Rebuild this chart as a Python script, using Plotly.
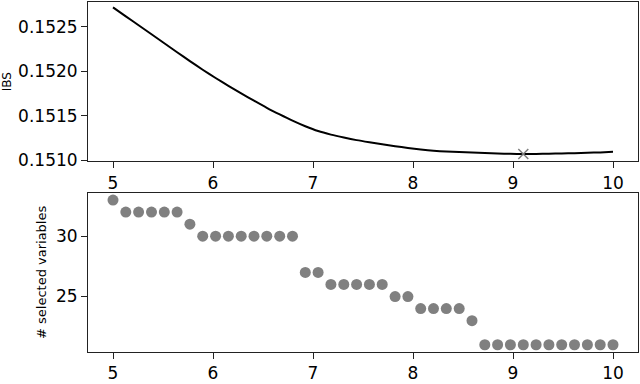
import numpy as np
import plotly.graph_objects as go
from plotly.subplots import make_subplots

# x grid (40 evaluated points between 5 and 10)
x_vals = [5.000, 5.128, 5.256, 5.385, 5.513, 5.641, 5.769, 5.897, 6.026, 6.154,
          6.282, 6.410, 6.538, 6.667, 6.795, 6.923, 7.051, 7.179, 7.308, 7.436,
          7.564, 7.692, 7.821, 7.949, 8.077, 8.205, 8.333, 8.462, 8.590, 8.718,
          8.846, 8.974, 9.103, 9.231, 9.359, 9.487, 9.615, 9.744, 9.872, 10.000]

ibs_vals = [0.152720, 0.152619, 0.152518, 0.152417, 0.152316, 0.152215, 0.152115, 0.152018,
            0.151925, 0.151837, 0.151752, 0.151670, 0.151590, 0.151515, 0.151445, 0.151382,
            0.151328, 0.151288, 0.151255, 0.151226, 0.151202, 0.151180, 0.151158, 0.151138,
            0.151120, 0.151106, 0.151097, 0.151091, 0.151087, 0.151082, 0.151076, 0.151072,
            0.151070, 0.151071, 0.151073, 0.151076, 0.151079, 0.151083, 0.151088, 0.151095]

n_selected = [33, 32, 32, 32, 32, 32, 31, 30, 30, 30, 30, 30, 30, 30, 30,
              27, 27, 26, 26, 26, 26, 26, 25, 25, 24, 24, 24, 24, 23,
              21, 21, 21, 21, 21, 21, 21, 21, 21, 21, 21]

best_x = [9.103]
best_ibs = [0.151070]

ibs_ticks = [0.1510, 0.1515, 0.1520, 0.1525]
sel_ticks = [25, 30]
x_ticks = [5, 6, 7, 8, 9, 10]

fig = make_subplots(rows=2, cols=1, vertical_spacing=0.0904)

fig.add_trace(go.Scatter(x=x_vals, y=ibs_vals, mode="lines", line_shape="spline",
                         line=dict(color="black", width=2, smoothing=0.6),
                         showlegend=False), row=1, col=1)
fig.add_trace(go.Scatter(x=best_x, y=best_ibs, mode="markers",
                         marker=dict(symbol="x-thin", size=10, color="gray",
                                     line=dict(color="gray", width=1.5)),
                         showlegend=False), row=1, col=1)
fig.add_trace(go.Scatter(x=x_vals, y=n_selected, mode="markers",
                         marker=dict(symbol="circle", size=11, color="#808080"),
                         showlegend=False), row=2, col=1)

font_fam = "DejaVu Sans"
axis_common = dict(showline=True, linecolor="#222", linewidth=1, mirror=True,
                   ticks="outside", ticklen=6, tickwidth=1, tickcolor="#222",
                   showgrid=False, zeroline=False,
                   tickfont=dict(family=font_fam, size=17, color="black"))

fig.update_xaxes(range=[4.75, 10.25], tickvals=x_ticks, **axis_common)
fig.update_yaxes(**axis_common)
fig.update_yaxes(row=1, col=1, range=[0.150989, 0.15278], tickvals=ibs_ticks,
                 tickformat=".4f",
                 title=dict(text="IBS", font=dict(family=font_fam, size=12, color="black"),
                            standoff=4))
fig.update_yaxes(row=2, col=1, range=[20.4, 33.6], tickvals=sel_ticks,
                 title=dict(text="# selected variables",
                            font=dict(family=font_fam, size=13, color="black"),
                            standoff=6))

fig.update_layout(width=640, height=384, margin=dict(l=88, r=2, t=1, b=25),
                  plot_bgcolor="white", paper_bgcolor="white",
                  font=dict(family=font_fam, color="black"))

fig.write_html("out.html", config={"displayModeBar": False},
               post_script="document.body.style.margin='0px';document.body.style.overflow='hidden';")
